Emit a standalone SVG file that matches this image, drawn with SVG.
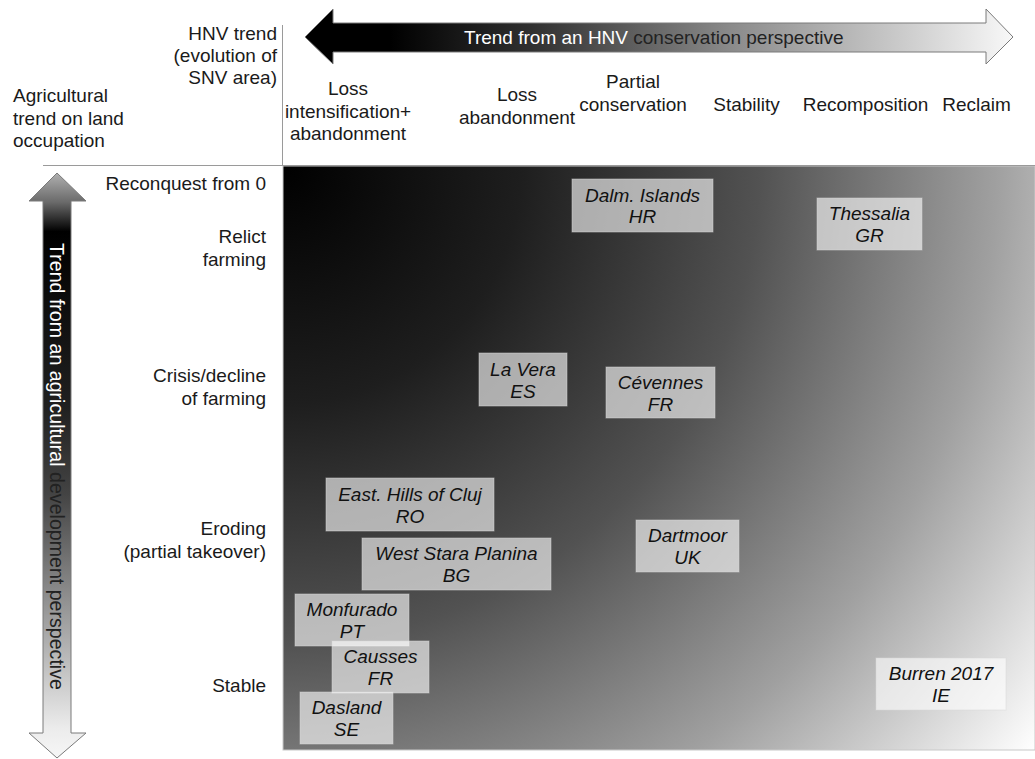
<svg xmlns="http://www.w3.org/2000/svg" width="1035" height="759" viewBox="0 0 1035 759">
<defs>
<style>
text{font-family:"Liberation Sans",Arial,sans-serif;font-size:19px;fill:#1a1a1a}
.r{text-anchor:end}
.c{text-anchor:middle}
.w{fill:#ffffff}
.d{fill:#222222}
.box rect{fill:#ffffff;fill-opacity:0.62;stroke:#d8d8d8;stroke-opacity:0.5;stroke-width:1}
.box text{font-style:italic;text-anchor:middle;fill:#111111}
.axis{stroke:#9a9a9a;stroke-width:1;fill:none}
.arrow{stroke:#7a7a7a;stroke-width:1}
</style>
<radialGradient id="panelGrad" gradientUnits="userSpaceOnUse" cx="283" cy="166" r="952">
<stop offset="0" stop-color="#000000"/>
<stop offset="0.25" stop-color="#1e1e1e"/>
<stop offset="0.5" stop-color="#525252"/>
<stop offset="0.75" stop-color="#a0a0a0"/>
<stop offset="1" stop-color="#ffffff"/>
</radialGradient>
<linearGradient id="hGrad" gradientUnits="userSpaceOnUse" x1="305" y1="0" x2="1013" y2="0">
<stop offset="0" stop-color="#000000"/>
<stop offset="0.12" stop-color="#000000"/>
<stop offset="0.32" stop-color="#303030"/>
<stop offset="0.6" stop-color="#8a8a8a"/>
<stop offset="0.85" stop-color="#cdcdcd"/>
<stop offset="1" stop-color="#f8f8f8"/>
</linearGradient>
<linearGradient id="vGrad" gradientUnits="userSpaceOnUse" x1="0" y1="173" x2="0" y2="758">
<stop offset="0" stop-color="#b0b0b0"/>
<stop offset="0.05" stop-color="#6a6a6a"/>
<stop offset="0.1" stop-color="#000000"/>
<stop offset="0.4" stop-color="#202020"/>
<stop offset="0.55" stop-color="#444444"/>
<stop offset="0.75" stop-color="#999999"/>
<stop offset="0.95" stop-color="#ececec"/>
<stop offset="1" stop-color="#f6f6f6"/>
</linearGradient>
</defs>
<rect width="1035" height="759" fill="#ffffff"/>

<g id="panel">
<rect x="283" y="166" width="752" height="584" fill="url(#panelGrad)" stroke="#c8c8c8" stroke-width="1"/>
</g>

<g id="axes">
<line class="axis" x1="43" y1="165.5" x2="1035" y2="165.5"/>
<line class="axis" x1="282.5" y1="25" x2="282.5" y2="166"/>
</g>

<g id="hnv-arrow">
<polygon class="arrow" fill="url(#hGrad)" points="305,37 333,9 333,23 986,23 986,9 1013,37 986,64 986,52 333,52 333,64"/>
<text x="464" y="44"><tspan class="w">Trend from an HNV </tspan><tspan class="d">conservation perspective</tspan></text>
</g>

<g id="agri-arrow">
<polygon class="arrow" fill="url(#vGrad)" points="57,173 86,201 71,201 71,733 86,733 57,758 29,733 43,733 43,201 29,201"/>
<text transform="translate(50,243) rotate(90)" style="font-size:19.6px"><tspan class="w">Trend from an agricultural </tspan><tspan class="d">development perspective</tspan></text>
</g>

<g id="header-labels">
<text class="r" x="277" y="40">HNV trend</text>
<text class="r" x="277" y="62">(evolution of</text>
<text class="r" x="277" y="84">SNV area)</text>
<text x="13" y="102">Agricultural</text>
<text x="13" y="124.5">trend on land</text>
<text x="13" y="147">occupation</text>
</g>

<g id="column-labels">
<text class="c" x="348" y="95">Loss</text>
<text class="c" x="348" y="117.5">intensification+</text>
<text class="c" x="348" y="140">abandonment</text>
<text class="c" x="517" y="101">Loss</text>
<text class="c" x="517" y="124">abandonment</text>
<text class="c" x="633" y="88">Partial</text>
<text class="c" x="633" y="111">conservation</text>
<text class="c" x="746.5" y="111">Stability</text>
<text class="c" x="865.5" y="111">Recomposition</text>
<text class="c" x="976.5" y="111">Reclaim</text>
</g>

<g id="row-labels">
<text class="r" x="266" y="190">Reconquest from 0</text>
<text class="r" x="266" y="243">Relict</text>
<text class="r" x="266" y="266">farming</text>
<text class="r" x="266" y="382">Crisis/decline</text>
<text class="r" x="266" y="405">of farming</text>
<text class="r" x="266" y="535">Eroding</text>
<text class="r" x="266" y="558">(partial takeover)</text>
<text class="r" x="266" y="692">Stable</text>
</g>

<g id="box-dalm" class="box">
<rect x="572" y="179" width="141" height="53"/>
<text x="642.5" y="201.5">Dalm. Islands</text>
<text x="642.5" y="223">HR</text>
</g>
<g id="box-thessalia" class="box">
<rect x="817" y="198" width="105" height="52"/>
<text x="869.5" y="220">Thessalia</text>
<text x="869.5" y="242">GR</text>
</g>
<g id="box-lavera" class="box">
<rect x="479" y="353" width="88" height="53"/>
<text x="523" y="375.5">La Vera</text>
<text x="523" y="397.5">ES</text>
</g>
<g id="box-cevennes" class="box">
<rect x="606" y="367" width="109" height="51"/>
<text x="660.5" y="388.5">Cévennes</text>
<text x="660.5" y="410.5">FR</text>
</g>
<g id="box-cluj" class="box">
<rect x="326" y="478" width="168" height="53"/>
<text x="410" y="500.5">East. Hills of Cluj</text>
<text x="410" y="522.5">RO</text>
</g>
<g id="box-stara" class="box">
<rect x="362" y="538" width="189" height="52"/>
<text x="456.5" y="560">West Stara Planina</text>
<text x="456.5" y="582">BG</text>
</g>
<g id="box-dartmoor" class="box">
<rect x="636" y="520" width="103" height="52"/>
<text x="687.5" y="542">Dartmoor</text>
<text x="687.5" y="564">UK</text>
</g>
<g id="box-monfurado" class="box">
<rect x="295" y="594" width="114" height="52"/>
<text x="352" y="616">Monfurado</text>
<text x="352" y="638">PT</text>
</g>
<g id="box-causses" class="box">
<rect x="332" y="641" width="97" height="52"/>
<text x="380.5" y="663">Causses</text>
<text x="380.5" y="685">FR</text>
</g>
<g id="box-dasland" class="box">
<rect x="300" y="692" width="93" height="52"/>
<text x="346.5" y="714">Dasland</text>
<text x="346.5" y="736">SE</text>
</g>
<g id="box-burren" class="box">
<rect x="876" y="658" width="130" height="52"/>
<text x="941" y="680">Burren 2017</text>
<text x="941" y="702">IE</text>
</g>
</svg>
